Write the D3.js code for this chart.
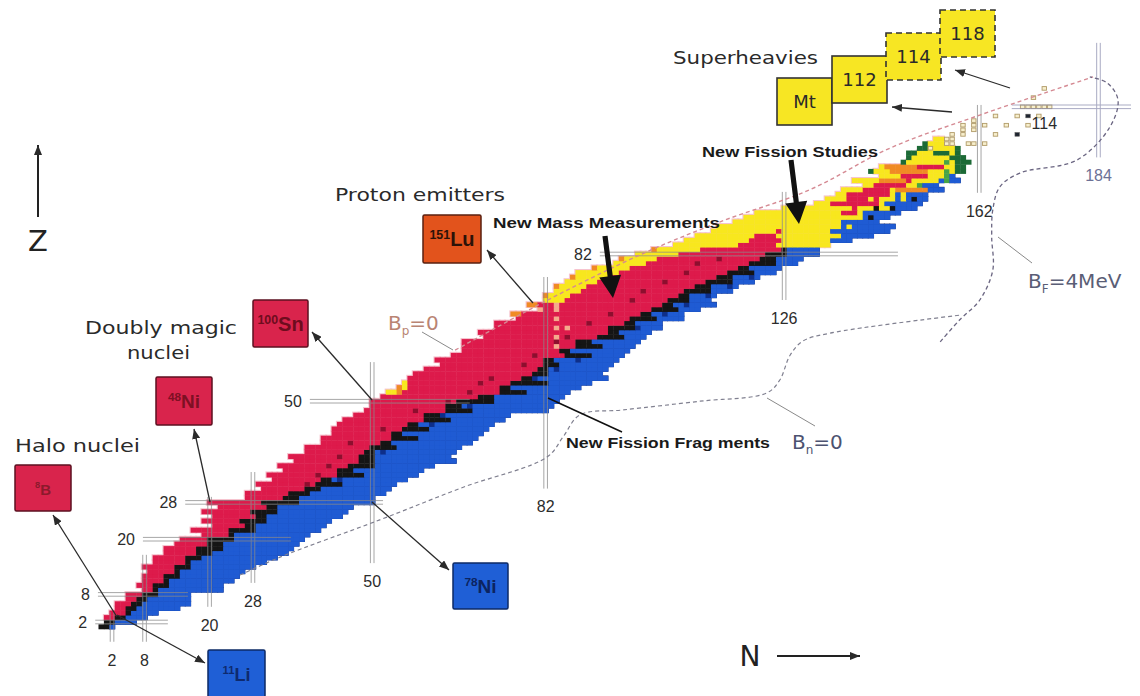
<!DOCTYPE html>
<html>
<head>
<meta charset="utf-8">
<script src="https://cdn.jsdelivr.net/npm/d3@7"></script>
<style>
  body { margin: 0; background: #fff; }
  svg { display: block; }
</style>
</head>
<body>
<script>
// chart of nuclides: one run string per Z (letter = decay colour, number = cells)
// r beta+, b beta-, k stable, y alpha, o proton emitter, p alpha (weak), g/d fission, w gap
var rowN0 = [
  0, 1, 1, 2, 3, 3, 5, 5, 8, 7,
  8, 8, 9, 8, 10, 10, 12, 12, 14, 15,
  19, 17, 21, 19, 21, 19, 22, 20, 27, 27,
  30, 29, 32, 31, 34, 33, 36, 35, 38, 38,
  41, 41, 43, 43, 44, 45, 47, 49, 50, 50,
  52, 53, 55, 56, 57, 58, 60, 63, 62, 65,
  67, 67, 67, 71, 70, 73, 73, 77, 76, 81,
  79, 82, 82, 84, 84, 86, 87, 88, 91, 95,
  96, 99, 102, 106, 108, 110, 113, 114, 117, 119,
  121, 126, 132, 134, 136, 137, 141, 139, 144, 142,
  144, 148, 149, 149, 151, 152, 154
];
var rowRuns = [
  "k2b1", "k2b4", "r2k2b4", "r3k1b5", "r2k2b8", "r3k2b9", "r2k2b8", "r3k3b6", "r2k1b12", "r3k3b10",
  "r4k1b12", "r4k3b11", "r5k1b12", "r6k3b12", "r6k1b14", "r6k3b14", "r6k3b14", "r6k5b13", "r6k3b14", "r5k5b13",
  "r5k1b14", "r7k5b12", "r6k2b13", "r7k5b12", "r8k2b14", "r9k5b13", "r9k2b14", "r10k7b14", "r7k3b14", "r8k4b14",
  "r8k3b13", "r11k5b10", "r9k2b14", "r13k5b10", "r10k3b13", "r13k5b11", "r12k3b15", "r13k3b14", "r11k2b15", "r12k5b12",
  "r11k2b15", "r13k5b11", "r11k2b15", "r13k5b11", "r13k2b14", "r15k5b10", "r13k3b13", "r15k5b14", "r14k3b17", "r16k7b12",
  "r18k3b13", "y2o1r18k5b8", "o1y1r17k2b13", "y1r19k7b8", "r21k2b14", "r22k3b10", "r21k2b11", "r19k3b10", "r20k2b12", "r21k5b6",
  "r18k2b11", "r17p1r3k5b6", "r21k3b9", "r13p1r7k5b4", "r24k2b6", "r11p1r1p1r7k5b5", "r24k2b5", "r7p1r13k5b5", "o2r22k2b6", "p1r2p1r17k5b4",
  "o2r3p1r19k2b8", "y4r19k4b4", "o1y4r20k2b5", "y5r19k5b4", "o1y5r20k3b5", "y6r20k5b4", "o1y6r20k3b5", "y8r20k5b4", "o1y6r20k2b6", "y6r19k5b4",
  "o1y6r19k3b5", "y8r16k4b6", "o1y8r15k1b6", "y12r7y10", "y12r6y9b4", "y11r4y12b6", "y12r1y9b11", "y23b1y1b8", "y20b7", "y22b1k1b3",
  "y16r3y1b7", "y13r1y3k1y2k1b4", "y3r9y1b7", "y4r4y1r1y3b1y1b1k1b2", "y2r8y1b1y1b4", "y4r5y1o6b3", "y2r6y2g1b3", "y5o5r1y5b1g1b2", "y4r5y3g1b1", "d1y3o7y3g1y1d2",
  "y1o6r5y2d2", "d1y7g1y1d3", "d1y7d3", "d2y3d3y1d1", "d2y5d1", "d1y3", "y2"
];
// darker (long lived) cells inside the red and blue areas [N, Z]
var darkSpots = [
  [38,32],[40,34],[42,36],[44,38],[46,41],[52,44],[54,42],[56,44],[58,48],[60,47],
  [64,50],[68,52],[70,54],[72,55],[78,58],[80,60],[84,63],[86,64],[90,67],[94,69],
  [98,72],[100,74],[104,76],[108,78],[110,80],[114,81],
  [44,33],[48,37],[52,39],[56,42],[59,44],[61,45],[63,47],[68,49],[72,50],[75,52],
  [80,55],[84,57],[88,59],[92,62],[96,64],[99,66],[104,69],[108,71],[112,73],[116,75],[120,77]
];
// newest superheavy nuclei, open squares [N, Z]; filled ones separately
var newHeavy = [
  [153,105],[156,106],[156,107],[157,106],[157,107],[157,108],[159,108],[159,109],[159,110],
  [160,106],[161,106],[161,109],[161,110],[161,111],[163,106],[163,110],[165,108],[165,112],
  [167,110],[169,112],[171,110],[173,112],[170,114],[171,114],[172,114],[173,114],[174,114],
  [175,114],[172,116],[174,118]
];
var newHeavyFilled = [[169,108],[171,112]];

// magic numbers
var zMagic = [2, 8, 20, 28, 50, 82, 114];
var zMagicFrom = [-1.1, -0.6, 7.7, 15.5, 38.5, 92, 168];
var zMagicTo = [12.3, 16, 35, 52, 68, 147, 190];
var nMagic = [2, 8, 20, 28, 50, 82, 126, 162, 184];
var nMagicFrom = [-2.3, -2.3, 5.3, 10.5, 14.8, 31, 72, 95.3, 103];
var nMagicTo = [4.2, 16.6, 29.2, 34.6, 58.5, 77, 95.5, 114.4, 127.9];

// traced limit curves [N, Z]
var bpLine = [[65.3,61.1],[82.4,72.0],[99.4,81.8],[114.2,89.0],[130.8,96.0],[145.5,105.0],[162.1,112.2],[183.0,120.5]];
var bnLine = [[25.6,12.2],[33.0,16.1],[51.4,24.2],[66.8,31.3],[82.3,37.9],[85.2,42.2],[88.3,47.0],[96.3,48.1],
  [110.5,50.0],[122.8,51.8],[125.2,54.6],[127.1,60.0],[129.5,63.1],[134.5,64.8],[158.4,68.7]];
var bfLine = [[154.8,62.9],[158.4,67.7],[162.1,72.0],[164.5,78.5],[164.3,85.7],[164.5,91.6],[165.8,96.6],
  [169.5,99.6],[180.0,102.4],[186.1,109.6],[187.6,115.5],[185.6,119.2],[182.4,120.5]];

var colors = { r: "#dd1a4b", b: "#1f5bd3", k: "#151515", y: "#f8e71e", o: "#f08a24",
  p: "#f5a98c", g: "#47a447", d: "#1c6a36", R: "#8e0e2e", B: "#0e2f8a" };

var width = 1140, height = 696;
var svg = d3.select("body").append("svg").attr("width", width).attr("height", height);
var defs = svg.append("defs");
defs.append("marker").attr("id", "arr").attr("viewBox", "0 0 10 8")
  .attr("refX", 10).attr("refY", 4).attr("markerWidth", 10).attr("markerHeight", 8)
  .attr("markerUnits", "userSpaceOnUse").attr("orient", "auto")
  .append("path").attr("d", "M0,0L10,4L0,8z").attr("fill", "#2a2a2a");

var x = d3.scaleLinear().domain([0, 190]).range([101.2, 1131.0]);
var y = d3.scaleLinear().domain([0, 120]).range([631.2, 79.2]);
var cw = x(1) - x(0), ch = y(0) - y(1);

// build cells
var cells = [], lookup = {};
rowRuns.forEach(function(s, i) {
  var z = i + 1, n = rowN0[i];
  s.replace(/([a-z])(\d+)/g, function(m, c, len) {
    for (var k = 0; k < +len; k++) {
      if (c !== "w") {
        var cell = { n: n, z: z, c: c };
        cells.push(cell);
        lookup[n + "," + z] = cell;
      }
      n++;
    }
    return m;
  });
});
darkSpots.forEach(function(d) {
  var cell = lookup[d[0] + "," + d[1]];
  if (cell && cell.c === "r") cell.c = "R";
  if (cell && cell.c === "b") cell.c = "B";
});

// soft outline round the chart
svg.append("g").selectAll("rect")
  .data(cells.filter(function(d) { return d.c === "r" || d.c === "y" || d.c === "o" || d.c === "p"; }))
  .join("rect")
  .attr("x", function(d) { return x(d.n) - cw / 2; })
  .attr("y", function(d) { return y(d.z) - ch / 2; })
  .attr("width", cw).attr("height", ch)
  .attr("fill", "#f6c4cf").attr("stroke", "#f6c4cf").attr("stroke-width", 2.2);
svg.append("g").selectAll("rect")
  .data(cells.filter(function(d) { return d.c === "b" || d.c === "B"; }))
  .join("rect")
  .attr("x", function(d) { return x(d.n) - cw / 2; })
  .attr("y", function(d) { return y(d.z) - ch / 2; })
  .attr("width", cw).attr("height", ch)
  .attr("fill", "#142c74").attr("stroke", "#142c74").attr("stroke-width", 1);

svg.append("g").selectAll("rect")
  .data(cells)
  .join("rect")
  .attr("x", function(d) { return x(d.n) - cw / 2; })
  .attr("y", function(d) { return y(d.z) - ch / 2; })
  .attr("width", cw + 0.4).attr("height", ch + 0.4)
  .attr("fill", function(d) { return colors[d.c]; });

svg.append("g").selectAll("rect")
  .data(newHeavy)
  .join("rect")
  .attr("x", function(d) { return x(d[0]) - cw / 2 + 0.5; })
  .attr("y", function(d) { return y(d[1]) - ch / 2 + 0.5; })
  .attr("width", cw - 1).attr("height", ch - 1)
  .attr("fill", "#f7efcc").attr("stroke", "#b09a68").attr("stroke-width", 0.9);
svg.append("g").selectAll("rect")
  .data(newHeavyFilled)
  .join("rect")
  .attr("x", function(d) { return x(d[0]) - cw / 2 + 0.5; })
  .attr("y", function(d) { return y(d[1]) - ch / 2 + 0.5; })
  .attr("width", cw - 1).attr("height", ch - 1)
  .attr("fill", "#1e2430").attr("stroke", "#555").attr("stroke-width", 0.6);

// magic number double lines
var magic = svg.append("g").attr("stroke-width", 1).attr("opacity", 0.75);
zMagic.forEach(function(z, i) {
  [-1.8, 1.8].forEach(function(off) {
    magic.append("line")
      .attr("x1", x(zMagicFrom[i])).attr("x2", x(zMagicTo[i]))
      .attr("y1", y(z) + off).attr("y2", y(z) + off)
      .attr("stroke", z === 114 ? "#8d8fb0" : "#8a8a8a");
  });
});
nMagic.forEach(function(n, i) {
  [-1.8, 1.8].forEach(function(off) {
    magic.append("line")
      .attr("x1", x(n) + off).attr("x2", x(n) + off)
      .attr("y1", y(nMagicFrom[i])).attr("y2", y(nMagicTo[i]))
      .attr("stroke", n === 184 ? "#8d8fb0" : "#8a8a8a");
  });
});

var numFont = "'Liberation Sans', Arial, sans-serif";
svg.append("g").selectAll("text")
  .data(zMagic.slice(0, 6))
  .join("text")
  .attr("x", function(z, i) { return x(zMagicFrom[i]) - 8; })
  .attr("y", function(z) { return y(z); })
  .attr("dy", "0.36em").attr("text-anchor", "end")
  .attr("font-family", numFont).attr("font-size", 16).attr("fill", "#2c2c2c")
  .text(function(z) { return z; });
svg.append("text").attr("x", x(174)).attr("y", y(114) + 16).attr("dy", "0.36em")
  .attr("text-anchor", "middle").attr("font-family", numFont).attr("font-size", 16)
  .attr("fill", "#2c2c2c").text("114");
svg.append("g").selectAll("text")
  .data(nMagic)
  .join("text")
  .attr("x", function(n) { return x(n); })
  .attr("y", function(n, i) { return y(nMagicFrom[i]) + 18; })
  .attr("dy", "0.36em").attr("text-anchor", "middle")
  .attr("font-family", numFont).attr("font-size", 16)
  .attr("fill", function(n) { return n === 184 ? "#6d7196" : "#2c2c2c"; })
  .text(function(n) { return n; });

// limit curves
var line = d3.line().x(function(d) { return x(d[0]); }).y(function(d) { return y(d[1]); })
  .curve(d3.curveCatmullRom);
svg.append("path").attr("d", line(bpLine)).attr("fill", "none")
  .attr("stroke", "#d58a93").attr("stroke-width", 1.4).attr("stroke-dasharray", "4,3");
svg.append("path").attr("d", line(bnLine)).attr("fill", "none")
  .attr("stroke", "#808090").attr("stroke-width", 1.2).attr("stroke-dasharray", "4,3");
svg.append("path").attr("d", line(bfLine)).attr("fill", "none")
  .attr("stroke", "#6b6682").attr("stroke-width", 1.3).attr("stroke-dasharray", "4,3");

// pointer lines for the limit labels
[[422, 332, 453, 350], [767, 398, 815, 426], [998, 237, 1032, 263]].forEach(function(p) {
  svg.append("line").attr("x1", p[0]).attr("y1", p[1]).attr("x2", p[2]).attr("y2", p[3])
    .attr("stroke", "#8a8a8a").attr("stroke-width", 1);
});

// boxes for special nuclei
var boxes = [
  { m: "8", s: "B", x: 15, y: 465, w: 56, h: 46, fill: "#d9244c", stroke: "#5c1020", tc: "#8c1a2c", fs: 15 },
  { m: "11", s: "Li", x: 208, y: 650, w: 57, h: 47, fill: "#1f5fd6", stroke: "#0d2a66", tc: "#0e2a6e", fs: 18 },
  { m: "48", s: "Ni", x: 156, y: 377, w: 56, h: 48, fill: "#d9244c", stroke: "#5c1020", tc: "#7e1024", fs: 19 },
  { m: "100", s: "Sn", x: 253, y: 300, w: 55, h: 47, fill: "#d9244c", stroke: "#5c1020", tc: "#6e0c1e", fs: 20 },
  { m: "151", s: "Lu", x: 423, y: 215, w: 58, h: 48, fill: "#e2531c", stroke: "#5a2010", tc: "#2c1208", fs: 20 },
  { m: "78", s: "Ni", x: 453, y: 563, w: 55, h: 46, fill: "#1f5fd6", stroke: "#0d2a66", tc: "#0c2460", fs: 19 }
];
boxes.forEach(function(b) {
  svg.append("rect").attr("x", b.x).attr("y", b.y).attr("width", b.w).attr("height", b.h)
    .attr("fill", b.fill).attr("stroke", b.stroke).attr("stroke-width", 1.5).attr("rx", 1.5);
  var t = svg.append("text").attr("x", b.x + b.w / 2).attr("y", b.y + b.h / 2 + 7)
    .attr("text-anchor", "middle").attr("font-family", numFont).attr("font-weight", "bold")
    .attr("fill", b.tc);
  t.append("tspan").attr("font-size", b.fs * 0.62).attr("dy", -7).text(b.m);
  t.append("tspan").attr("font-size", b.fs).attr("dy", 7).text(b.s);
});

var heavyBoxes = [
  { t: "Mt", x: 777, y: 78, dash: null },
  { t: "112", x: 832, y: 56, dash: null },
  { t: "114", x: 886, y: 33, dash: "6,4" },
  { t: "118", x: 940, y: 10, dash: "6,4" }
];
heavyBoxes.forEach(function(b) {
  svg.append("rect").attr("x", b.x).attr("y", b.y).attr("width", 55).attr("height", 47)
    .attr("fill", "#f7e623").attr("stroke", "#333").attr("stroke-width", 1.6)
    .attr("stroke-dasharray", b.dash);
  svg.append("text").attr("x", b.x + 27.5).attr("y", b.y + 24).attr("dy", "0.36em")
    .attr("text-anchor", "middle").attr("font-family", "'DejaVu Sans', sans-serif")
    .attr("font-size", 18).attr("fill", "#2a2a2a").text(b.t);
});

// thin arrows
[[117, 617, 53, 515], [117, 615, 205, 663], [210, 502, 194, 429], [372, 400, 312, 332],
 [533, 303, 487, 250], [372, 502, 449, 570], [952, 112, 892, 107], [1010, 88, 955, 70]].forEach(function(a) {
  svg.append("line").attr("x1", a[0]).attr("y1", a[1]).attr("x2", a[2]).attr("y2", a[3])
    .attr("stroke", "#2a2a2a").attr("stroke-width", 1.3).attr("marker-end", "url(#arr)");
});
svg.append("line").attr("x1", 548).attr("y1", 398).attr("x2", 622).attr("y2", 432)
  .attr("stroke", "#111").attr("stroke-width", 1.6);

// big black arrows
function bigArrow(x1, y1, x2, y2) {
  var dx = x2 - x1, dy = y2 - y1, len = Math.sqrt(dx * dx + dy * dy);
  var ux = dx / len, uy = dy / len, px = -uy, py = ux;
  var hl = 22, hw = 11, sw = 2.6;
  var bx = x2 - ux * hl, by = y2 - uy * hl;
  var pts = [[x1 + px * sw, y1 + py * sw], [bx + px * sw, by + py * sw], [bx + px * hw, by + py * hw],
    [x2, y2], [bx - px * hw, by - py * hw], [bx - px * sw, by - py * sw], [x1 - px * sw, y1 - py * sw]];
  svg.append("polygon").attr("points", pts.map(function(p) { return p.join(","); }).join(" "))
    .attr("fill", "#111");
}
bigArrow(605, 236, 613, 298);
bigArrow(791, 160, 799, 224);

// axis arrows
svg.append("line").attr("x1", 38).attr("y1", 217).attr("x2", 38).attr("y2", 145)
  .attr("stroke", "#222").attr("stroke-width", 2).attr("marker-end", "url(#arr)");
svg.append("text").attr("x", 38).attr("y", 251).attr("text-anchor", "middle")
  .attr("font-family", "'DejaVu Sans', sans-serif").attr("font-size", 29).attr("fill", "#222").text("Z");
svg.append("line").attr("x1", 777).attr("y1", 656).attr("x2", 860).attr("y2", 656)
  .attr("stroke", "#222").attr("stroke-width", 2).attr("marker-end", "url(#arr)");
svg.append("text").attr("x", 750).attr("y", 666).attr("text-anchor", "middle")
  .attr("font-family", "'DejaVu Sans', sans-serif").attr("font-size", 28).attr("fill", "#222").text("N");

// headings
var heads = [
  ["Superheavies", 673, 64, 145], ["Proton emitters", 335, 201, 170], ["Doubly magic", 85, 334, 152],
  ["nuclei", 127, 359, 63], ["Halo nuclei", 15, 452, 125]
];
heads.forEach(function(h) {
  svg.append("text").attr("x", h[1]).attr("y", h[2]).attr("textLength", h[3])
    .attr("lengthAdjust", "spacingAndGlyphs")
    .attr("font-family", "'DejaVu Sans', sans-serif").attr("font-size", 18).attr("fill", "#2a2a2a")
    .text(h[0]);
});
var bold = [
  ["New Mass Measurements", 493, 228, 227], ["New Fission Studies", 702, 157, 176],
  ["New Fission Frag ments", 566, 448, 204]
];
bold.forEach(function(h) {
  svg.append("text").attr("x", h[1]).attr("y", h[2]).attr("textLength", h[3])
    .attr("lengthAdjust", "spacingAndGlyphs")
    .attr("font-family", numFont).attr("font-weight", "bold").attr("font-size", 15).attr("fill", "#1a1a1a")
    .text(h[0]);
});

// limit labels with subscripts
function limitLabel(x0, y0, sub, rest, col, size) {
  var t = svg.append("text").attr("x", x0).attr("y", y0)
    .attr("font-family", "'DejaVu Sans', sans-serif").attr("font-size", size).attr("fill", col);
  t.append("tspan").text("B");
  t.append("tspan").attr("font-size", size * 0.6).attr("dy", 5).text(sub);
  t.append("tspan").attr("dy", -5).text(rest);
}
limitLabel(388, 330, "p", "=0", "#b98473", 20);
limitLabel(792, 449, "n", "=0", "#4c5270", 20);
limitLabel(1028, 288, "F", "=4MeV", "#5a5e76", 20);
</script>
</body>
</html>
